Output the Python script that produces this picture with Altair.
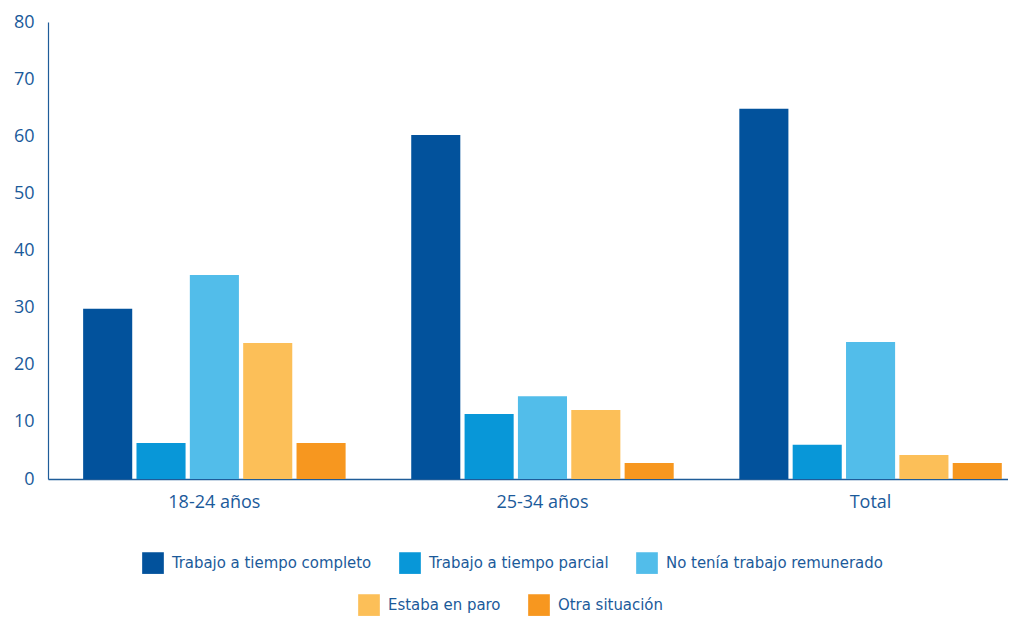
import altair as alt
import pandas as pd

grupos = ["18-24 años", "25-34 años", "Total"]
series = ["Trabajo a tiempo completo", "Trabajo a tiempo parcial",
          "No tenía trabajo remunerado", "Estaba en paro", "Otra situación"]
colores = ["#02529C", "#0897D8", "#52BDEA", "#FCBF58", "#F7971F"]

completo = [29.8, 60.2, 64.8]
parcial = [6.3, 11.4, 6.0]
no_tenia = [35.7, 14.5, 24.0]
paro = [23.8, 12.1, 4.2]
otra = [6.3, 2.8, 2.8]

valores = [completo, parcial, no_tenia, paro, otra]
rows = []
for s, vals in zip(series, valores):
    for g, v in zip(grupos, vals):
        rows.append({"grupo": g, "serie": s, "valor": v})
df = pd.DataFrame(rows)

TXT = "#1B5A9A"
LEG_FONT = "DejaVu Sans Condensed, sans-serif"

x = alt.X("grupo:N", sort=grupos, title=None,
          scale=alt.Scale(paddingInner=0.2, paddingOuter=0.063, align=0.85),
          axis=alt.Axis(labelAngle=0, ticks=False, labelPadding=14,
                        labelFontSize=18, labelColor=TXT, labelFont="Open Sans",
                        labelFontWeight=500,
                        domainColor="#1F5C99", domainWidth=1.5))
xo = alt.XOffset("serie:N", sort=series,
                 scale=alt.Scale(domain=series, paddingInner=0.08, paddingOuter=0))
y = alt.Y("valor:Q", title=None,
          scale=alt.Scale(domain=[0, 80]),
          axis=alt.Axis(values=list(range(0, 81, 10)), grid=False, ticks=False,
                        labelPadding=14, labelFontSize=18, labelColor=TXT,
                        labelFont="Open Sans", labelFontWeight=500,
                        domainColor="#1F5C99", domainWidth=1.2))

leg_common = dict(orient="none", direction="horizontal", title=None,
                  symbolType="square", symbolSize=470, symbolStrokeWidth=0,
                  labelFont=LEG_FONT, labelFontSize=16.6, labelColor=TXT,
                  labelOffset=8, columnPadding=27, padding=0,
                  labelLimit=400, symbolOpacity=1)

b1 = alt.Chart(df).transform_filter(
    alt.FieldOneOfPredicate(field="serie", oneOf=series[:3])
).mark_bar().encode(
    x=x, xOffset=xo, y=y,
    color=alt.Color("serie:N", sort=series[:3],
                    scale=alt.Scale(domain=series[:3], range=colores[:3]),
                    legend=alt.Legend(legendX=94, legendY=530, columns=3, **leg_common)),
)
b2 = alt.Chart(df).transform_filter(
    alt.FieldOneOfPredicate(field="serie", oneOf=series[3:])
).mark_bar().encode(
    x=x, xOffset=xo, y=y,
    color=alt.Color("serie:N", sort=series[3:],
                    scale=alt.Scale(domain=series[3:], range=colores[3:]),
                    legend=alt.Legend(legendX=310, legendY=572, columns=2, **leg_common)),
)

chart = alt.layer(b1, b2).resolve_scale(color="independent").properties(
    width=960, height=457,
    padding={"left": 5, "top": 5, "right": 0, "bottom": 0},
).configure(background="white").configure_view(stroke=None)

chart.save("out.html", embed_options={"renderer": "svg", "actions": False})
